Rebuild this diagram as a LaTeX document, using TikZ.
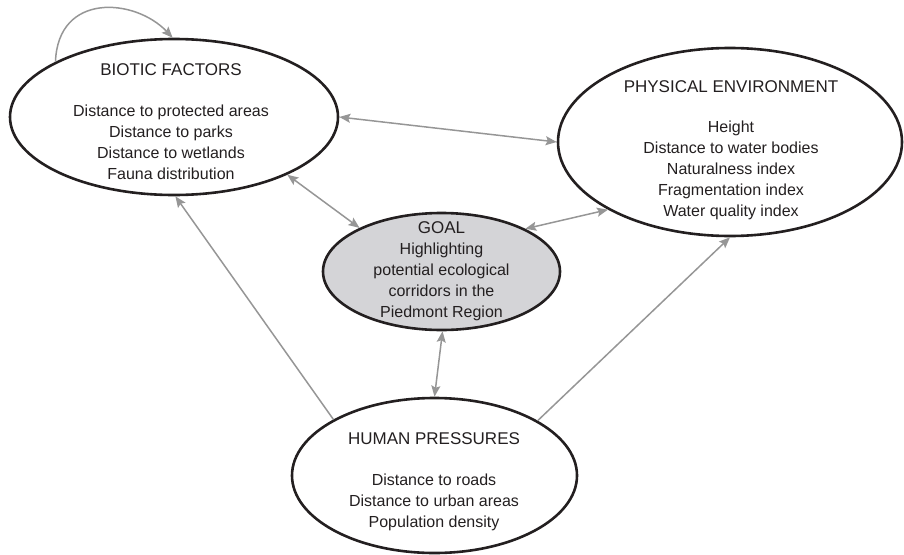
\documentclass[tikz,border=0pt]{standalone}
\usepackage{fontspec}
\setmainfont{Liberation Sans}
\usetikzlibrary{shapes.geometric,arrows.meta}
\definecolor{linkgray}{RGB}{150,150,150}
\definecolor{goalfill}{RGB}{212,212,215}
\definecolor{ink}{RGB}{35,31,32}
\tikzset{
  bubble/.style={ellipse, draw=ink, line width=2.6pt, inner sep=0pt},
  ttl/.style={inner sep=0pt, align=center, text=ink, font=\fontsize{17}{21}\selectfont},
  body/.style={inner sep=0pt, align=center, text=ink, font=\fontsize{16}{21}\selectfont},
  tip/.tip={Stealth[length=11pt,width=9pt,inset=2pt]},
  link/.style={draw=linkgray, line width=1.5pt, -tip},
  blink/.style={draw=linkgray, line width=1.5pt, tip-tip}
}
\begin{document}
\begin{tikzpicture}[x=1pt,y=-1pt]
\useasboundingbox (0,0) rectangle (904,554);
% ellipses
\node[bubble, minimum width=328pt, minimum height=156pt] (bio) at (174,117) {};
\node[bubble, minimum width=344pt, minimum height=188pt] (phys) at (730,142) {};
\node[bubble, fill=goalfill, minimum width=237pt, minimum height=117pt] (goal) at (441.5,271.5) {};
\node[bubble, minimum width=285pt, minimum height=155pt] (hum) at (434.5,475.5) {};
% texts
\node[ttl] (bioT) at (171,71.5) {\strut BIOTIC FACTORS};
\node[body] (bioB) at (171,143.3) {\strut Distance to protected areas\\ \strut Distance to parks\\ \strut Distance to wetlands\\ \strut Fauna distribution};
\node[ttl] (physT) at (731,88.5) {\strut PHYSICAL ENVIRONMENT};
\node[body] (physB) at (731,170) {\strut Height\\ \strut Distance to water bodies\\ \strut Naturalness index\\ \strut Fragmentation index\\ \strut Water quality index};
\node[body] (goalT) at (441.5,271.3) {\strut{\fontsize{17}{21}\selectfont GOAL}\\ \strut Highlighting\\ \strut potential ecological\\ \strut corridors in the\\ \strut Piedmont Region};
\node[ttl] (humT) at (434,440.5) {\strut HUMAN PRESSURES};
\node[body] (humB) at (434,502.2) {\strut Distance to roads\\ \strut Distance to urban areas\\ \strut Population density};
% connectors
\draw[link] (bio.155) .. controls (58,-8) and (135,-2) .. (bio.91);
\draw[blink] (bio.0) -- (phys.180);
\draw[blink] (bio.-27.2) -- (goal.152.8);
\draw[blink] (goal.27) -- (phys.209.1);
\draw[blink] (goal.-89) -- (hum.90);
\draw[link] (hum.151.3) -- (bio.-89.3);
\draw[link] (hum.28.7) -- (phys.-90);
\end{tikzpicture}
\end{document}
